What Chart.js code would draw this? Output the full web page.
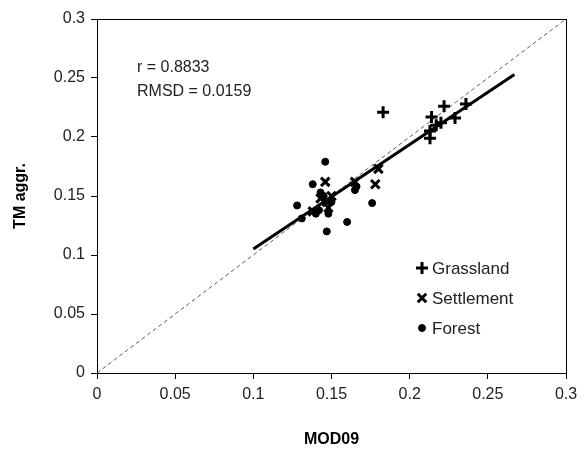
<!DOCTYPE html>
<html lang="en">
<head>
    <meta charset="UTF-8">
    <title>TM aggr. vs MOD09</title>
    <script src="https://cdn.jsdelivr.net/npm/chart.js"></script>
    <style>
        body { margin: 0; background: #fff; }
        #wrap { width: 584px; height: 453px; }
    </style>
</head>
<body>
    <div id="wrap"><canvas id="myChart"></canvas></div>
    <script>
        // reflectance pairs: [MOD09, TM aggr.]
        const grassland = [
            [0.183, 0.221], [0.213, 0.199], [0.213, 0.205], [0.214, 0.217],
            [0.220, 0.212], [0.222, 0.226], [0.229, 0.216], [0.236, 0.228], [0.217, 0.210]
        ];
        const settlement = [
            [0.146, 0.162], [0.165, 0.162], [0.180, 0.173], [0.178, 0.160],
            [0.148, 0.140], [0.147, 0.145], [0.138, 0.137], [0.150, 0.150], [0.143, 0.148]
        ];
        const forest = [
            [0.146, 0.179], [0.138, 0.160], [0.128, 0.142], [0.131, 0.131], [0.140, 0.135],
            [0.145, 0.150], [0.143, 0.153], [0.147, 0.120], [0.165, 0.155], [0.166, 0.158],
            [0.160, 0.128], [0.176, 0.144], [0.150, 0.145], [0.142, 0.138], [0.148, 0.135]
        ];
        const fitLine = [[0.1, 0.105], [0.267, 0.253]];
        const oneToOne = [[0, 0], [0.3, 0.3]];
        const tickValues = [0, 0.05, 0.1, 0.15, 0.2, 0.25, 0.3];
        const statsText = ['r = 0.8833', 'RMSD = 0.0159'];
        const legendItems = [
            { label: 'Grassland', style: 'cross' },
            { label: 'Settlement', style: 'crossRot' },
            { label: 'Forest', style: 'circle' }
        ];

        const FONT = '"Liberation Sans", Arial, sans-serif';
        const toXY = arr => arr.map(p => ({ x: p[0], y: p[1] }));

        // box around the plot, stats text and the legend
        const extras = {
            id: 'extras',
            afterDraw(chart) {
                const c = chart.ctx, a = chart.chartArea;
                c.save();
                c.strokeStyle = '#000';
                c.lineWidth = 1;
                c.strokeRect(a.left + 0.5, a.top + 0.5, a.right - a.left, a.bottom - a.top);

                c.fillStyle = '#222';
                c.font = '16px ' + FONT;
                c.textBaseline = 'middle';
                c.fillText(statsText[0], a.left + 40, 68);
                c.fillText(statsText[1], a.left + 40, 92);

                legendItems.forEach((it, i) => {
                    const y = 268 + i * 30;
                    c.fillStyle = '#000';
                    c.strokeStyle = '#000';
                    c.lineWidth = it.style === 'circle' ? 1 : 3;
                    Chart.helpers.drawPoint(c, {
                        pointStyle: it.style,
                        radius: it.style === 'circle' ? 3.5 : 6,
                        borderWidth: c.lineWidth
                    }, 422, y);
                    c.fillStyle = '#222';
                    c.font = '17px ' + FONT;
                    c.fillText(it.label, 432, y + 1);
                });
                c.restore();
            }
        };

        const ctx = document.getElementById('myChart').getContext('2d');
        Chart.defaults.font.family = FONT;
        Chart.defaults.color = '#000';

        new Chart(ctx, {
            type: 'scatter',
            data: {
                datasets: [
                    {
                        label: '1:1',
                        data: toXY(oneToOne),
                        showLine: true,
                        borderColor: '#333',
                        borderWidth: 0.8,
                        borderDash: [4, 3],
                        pointRadius: 0
                    },
                    {
                        label: 'fit',
                        data: toXY(fitLine),
                        showLine: true,
                        borderColor: '#000',
                        borderWidth: 3,
                        pointRadius: 0
                    },
                    {
                        label: 'Forest',
                        data: toXY(forest),
                        pointStyle: 'circle',
                        pointRadius: 3.5,
                        backgroundColor: '#000',
                        borderColor: '#000',
                        borderWidth: 1
                    },
                    {
                        label: 'Settlement',
                        data: toXY(settlement),
                        pointStyle: 'crossRot',
                        pointRadius: 6,
                        borderColor: '#000',
                        borderWidth: 3
                    },
                    {
                        label: 'Grassland',
                        data: toXY(grassland),
                        pointStyle: 'cross',
                        pointRadius: 6,
                        borderColor: '#000',
                        borderWidth: 3
                    }
                ]
            },
            options: {
                responsive: true,
                maintainAspectRatio: false,
                animation: false,
                layout: { padding: { top: 19, right: 18, left: 0, bottom: 0 } },
                plugins: {
                    legend: { display: false },
                    tooltip: { enabled: false }
                },
                scales: {
                    x: {
                        type: 'linear',
                        min: 0,
                        max: 0.3,
                        afterBuildTicks: s => { s.ticks = tickValues.map(v => ({ value: v })); },
                        afterFit: s => { s.height = 80; },
                        grid: { drawOnChartArea: false, drawTicks: true, tickLength: 6, color: '#000' },
                        border: { color: '#000' },
                        ticks: {
                            font: { size: 16 },
                            color: '#222',
                            padding: 6,
                            callback: v => String(+v.toFixed(2))
                        },
                        title: {
                            display: true,
                            text: 'MOD09',
                            font: { size: 16, weight: 'bold' },
                            color: '#000',
                            padding: { top: 10, bottom: 4 }
                        }
                    },
                    y: {
                        type: 'linear',
                        min: 0,
                        max: 0.3,
                        afterBuildTicks: s => { s.ticks = tickValues.map(v => ({ value: v })); },
                        afterFit: s => { s.width = 97; },
                        grid: { drawOnChartArea: false, drawTicks: true, tickLength: 6, color: '#000' },
                        border: { color: '#000' },
                        ticks: {
                            font: { size: 16 },
                            color: '#222',
                            padding: 6,
                            callback: v => String(+v.toFixed(2))
                        },
                        title: {
                            display: true,
                            text: 'TM aggr.',
                            font: { size: 16, weight: 'bold' },
                            color: '#000',
                            padding: { top: 11, bottom: 4 }
                        }
                    }
                }
            },
            plugins: [extras]
        });
    </script>
</body>
</html>
